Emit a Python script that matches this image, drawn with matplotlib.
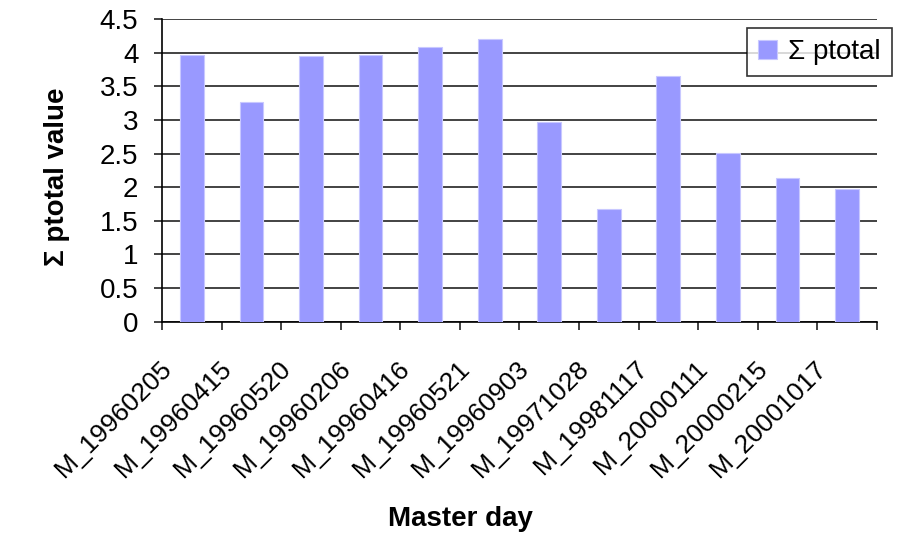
import numpy as np
import matplotlib.pyplot as plt
from matplotlib.transforms import ScaledTranslation

plt.rcParams['font.family'] = ['Liberation Sans', 'DejaVu Sans']

days = ["M_19960205", "M_19960415", "M_19960520", "M_19960206",
        "M_19960416", "M_19960521", "M_19960903", "M_19971028",
        "M_19981117", "M_20000111", "M_20000215", "M_20001017"]
ptotal = [3.97, 3.27, 3.95, 3.97, 4.09, 4.20, 2.97, 1.68, 3.66, 2.51, 2.14, 1.98]
yticks = np.arange(0, 4.51, 0.5)

fig = plt.figure(figsize=(9.21, 5.36), dpi=100)
ax = fig.add_axes([0.176, 0.400, 0.776, 0.564])

x = np.arange(len(days))
ax.bar(x, ptotal, width=0.4, color="#9999ff", edgecolor="#c8c8ff",
       linewidth=0.8, label="Σ ptotal", zorder=3)

ax.set_xlim(-0.5, len(days) - 0.5)
ax.set_ylim(0, 4.5)
ax.set_yticks(yticks)
ax.set_yticklabels([f"{v:g}" for v in yticks], fontsize=20)
ax.yaxis.grid(True, color="#222222", linewidth=1.2, zorder=0)
ax.tick_params(axis="y", length=6, width=1.2, color="#222222", pad=11)

# ticks sit between categories, labels under each bar
ax.set_xticks(np.arange(-0.5, len(days), 1.0))
ax.set_xticklabels([])
ax.set_xticks(x, minor=True)
ax.set_xticklabels(days, minor=True, rotation=45, ha="right",
                   rotation_mode="anchor", fontsize=19)
ax.tick_params(axis="x", which="major", length=6, width=1.2, color="#222222")
ax.tick_params(axis="x", which="minor", length=0, pad=16)

# nudge the slanted labels down-left of their bars
shift = ScaledTranslation(-0.32, -0.12, fig.dpi_scale_trans)
for lbl in ax.get_xticklabels(minor=True):
    lbl.set_transform(lbl.get_transform() + shift)

for side in ("top", "right"):
    ax.spines[side].set_visible(False)
ax.spines["left"].set_linewidth(1.2)
ax.spines["bottom"].set_linewidth(1.2)

ax.set_ylabel("Σ ptotal value", fontsize=20, fontweight="bold", va="center")
ax.yaxis.set_label_coords(-0.147, 0.48)
ax.set_xlabel("Master day", fontsize=20, fontweight="bold", va="center")
ax.xaxis.set_label_coords(0.417, -0.652)

leg = ax.legend(loc="upper right", bbox_to_anchor=(0.9685, 0.9478),
                bbox_transform=fig.transFigure, borderaxespad=0,
                fontsize=20, frameon=True, fancybox=False, edgecolor="black",
                handlelength=0.7, handleheight=0.7, handletextpad=0.4,
                borderpad=0.4)
leg.get_frame().set_linewidth(1.2)

fig.savefig("out.png", dpi=100)
